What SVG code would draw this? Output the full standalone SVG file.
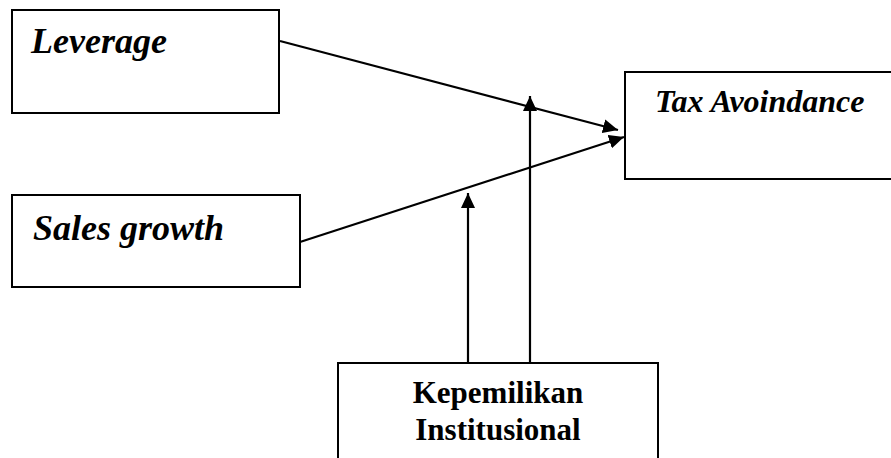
<svg xmlns="http://www.w3.org/2000/svg" width="891" height="458" viewBox="0 0 891 458">
<style>
.box{fill:#fff;stroke:#000;stroke-width:2}
.lbl{font-family:"Liberation Serif","Times New Roman",serif;font-weight:bold;fill:#000}
.it{font-style:italic}
.conn{stroke:#000;stroke-width:2.2;fill:none}
</style>
<defs>
<marker id="ah" markerUnits="userSpaceOnUse" markerWidth="16" markerHeight="14" refX="15" refY="7" orient="auto">
<path d="M0,0 L15,7 L0,14 z" fill="#000"/>
</marker>
</defs>
<rect width="891" height="458" fill="#fff"/>
<g id="connectors">
<line class="conn" x1="280" y1="41" x2="618" y2="130" marker-end="url(#ah)"/>
<line class="conn" x1="300" y1="242" x2="624" y2="137" marker-end="url(#ah)"/>
<line class="conn" x1="468" y1="363" x2="468" y2="193" marker-end="url(#ah)"/>
<line class="conn" x1="530" y1="363" x2="530" y2="96" marker-end="url(#ah)"/>
</g>
<g id="leverage">
<rect class="box" x="12" y="10" width="267" height="103"/>
<text class="lbl it" x="31" y="53" font-size="36">Leverage</text>
</g>
<g id="sales-growth">
<rect class="box" x="12" y="195" width="288" height="92"/>
<text class="lbl it" x="33" y="240" font-size="36">Sales growth</text>
</g>
<g id="tax-avoidance">
<rect class="box" x="625" y="72" width="290" height="107"/>
<text class="lbl it" x="655" y="112" font-size="32">Tax Avoindance</text>
</g>
<g id="kepemilikan">
<rect class="box" x="338" y="363" width="320" height="120"/>
<text class="lbl" x="498" y="403" font-size="31" text-anchor="middle">Kepemilikan</text>
<text class="lbl" x="498" y="440" font-size="31" text-anchor="middle">Institusional</text>
</g>
</svg>
